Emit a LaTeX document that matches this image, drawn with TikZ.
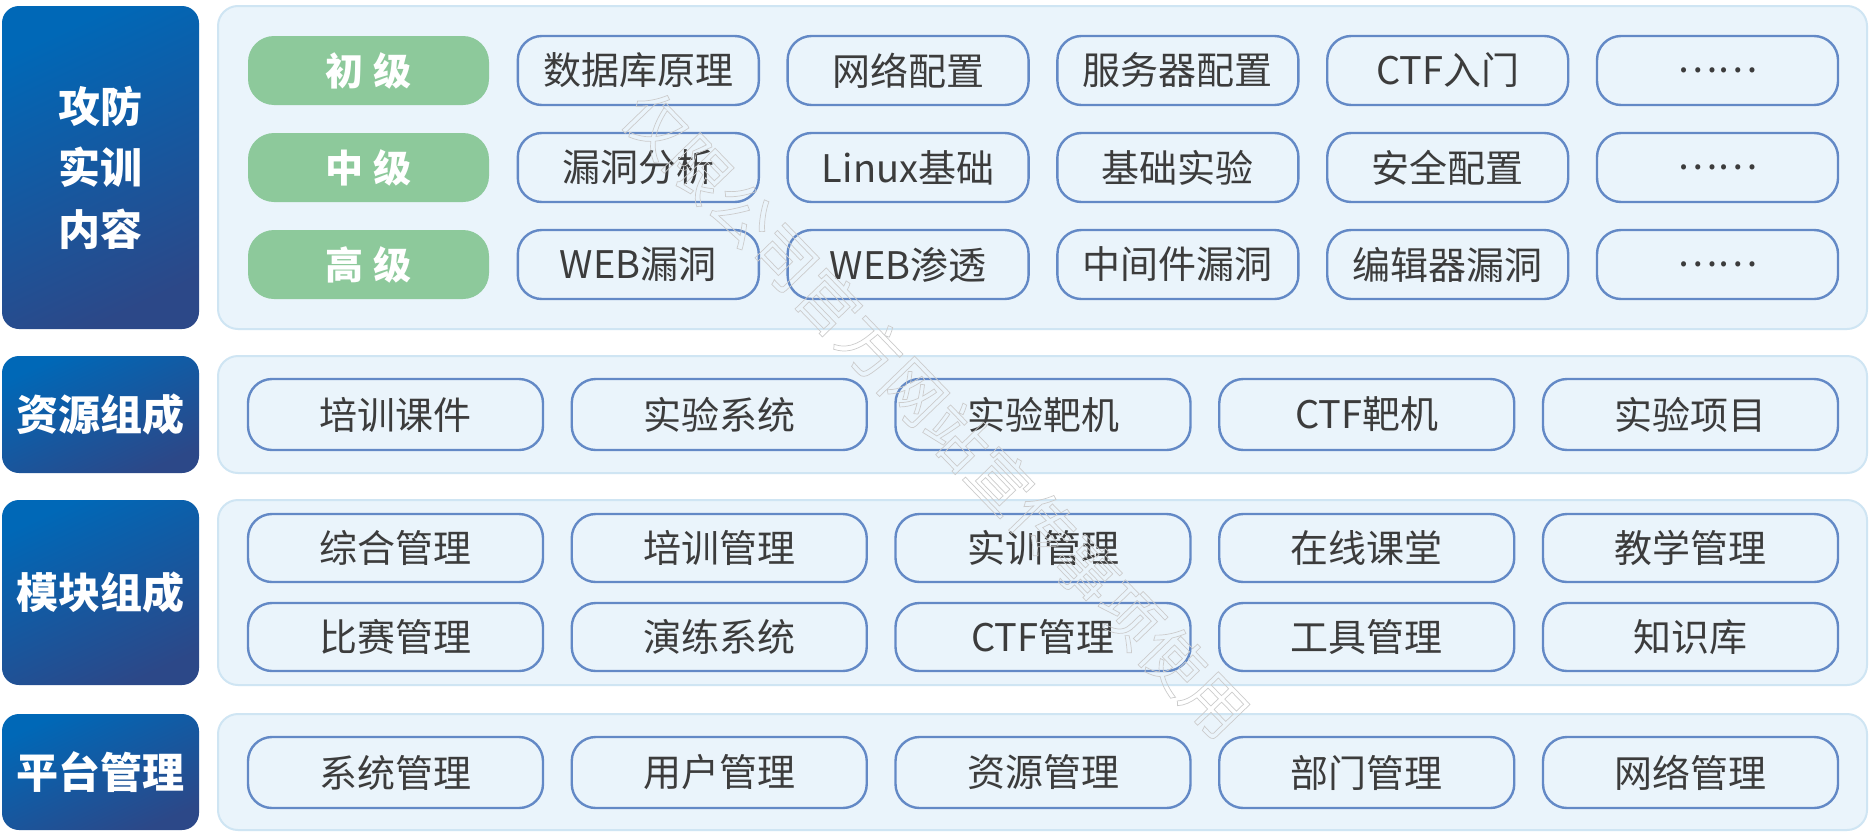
\documentclass[tikz,border=0pt]{standalone}
\usepackage{fontspec}
\setmainfont{Noto Sans CJK SC}
\usetikzlibrary{positioning}

\definecolor{sideTop}{HTML}{0068B7}
\definecolor{sideBot}{HTML}{2C4888}
\definecolor{panelFill}{HTML}{EAF4FB}
\definecolor{panelLine}{HTML}{CFE5F3}
\definecolor{itemLine}{HTML}{6389C6}
\definecolor{levelGreen}{HTML}{8DC99B}
\definecolor{textGray}{HTML}{3C3C3C}

% outlined text for the watermark
\newcommand{\outlinetext}[1]{\special{pdf:literal direct 1 Tr 0.35 w}#1\special{pdf:literal direct 0 Tr}}

\tikzset{
  sidebox/.style={rounded corners=8.5pt, top color=sideTop, bottom color=sideBot,
    shading angle=25, text=white, align=center, inner sep=0pt,
    minimum width=98.5pt, font=\fontsize{21}{30.7}\selectfont\bfseries},
  panel/.style={draw=panelLine, line width=1pt, fill=panelFill, rounded corners=10pt,
    minimum width=824.5pt, inner sep=0pt},
  levelbox/.style={fill=levelGreen, rounded corners=13pt, text=white, inner sep=0pt,
    minimum width=120.5pt, minimum height=34.5pt, font=\fontsize{19}{19}\selectfont\bfseries},
  itembox/.style={draw=itemLine, line width=1.2pt, fill=panelFill, rounded corners=12pt,
    text=textGray, inner sep=0pt, minimum height=34.5pt, font=\fontsize{19}{19}\selectfont},
}

\begin{document}
\begin{tikzpicture}[x=0.5pt, y=-0.5pt]
  \fill[white] (0,0) rectangle (1871,835);
  \useasboundingbox (0,0) rectangle (1871,835);

  % side labels
  \node[sidebox, minimum height=161.5pt] (sd-1) at (100.5,167.5) {攻防\\实训\\内容};
  \node[sidebox, minimum height=58.5pt] (sd-2) at (100.5,414.5) {资源组成};
  \node[sidebox, minimum height=92.5pt] (sd-3) at (100.5,592.5) {模块组成};
  \node[sidebox, minimum height=58pt] (sd-4) at (100.5,772) {平台管理};

  % panels
  \node[panel, minimum height=161.5pt] (pn-1) at (1042.5,167.5) {};
  \node[panel, minimum height=58.5pt] (pn-2) at (1042.5,414.5) {};
  \node[panel, minimum height=92.5pt] (pn-3) at (1042.5,592.5) {};
  \node[panel, minimum height=58pt] (pn-4) at (1042.5,772) {};

  % training content
  \foreach \lvl/\y/\names [count=\r] in {
      初\hspace{5pt}级/70.5/{数据库原理,网络配置,服务器配置,CTF入门,……},
      中\hspace{5pt}级/167.5/{漏洞分析,Linux基础,基础实验,安全配置,……},
      高\hspace{5pt}级/264.5/{WEB漏洞,WEB渗透,中间件漏洞,编辑器漏洞,……}} {
    \node[levelbox] (lv-\r) at (368.5,\y) {\lvl};
    \foreach \n [count=\i] in \names
      \node[itembox, minimum width=120.5pt] (c-\r-\i) at (368.5+\i*269.8,\y) {\n};
  }

  % resources
  \foreach \n [count=\i] in {培训课件,实验系统,实验靶机,CTF靶机,实验项目}
    \node[itembox, minimum width=147.5pt, minimum height=35.5pt] (rs-\i) at (395.5+\i*323.75-323.75,414.5) {\n};

  % modules
  \foreach \n [count=\i] in {综合管理,培训管理,实训管理,在线课堂,教学管理}
    \node[itembox, minimum width=147.5pt, minimum height=34pt] (md-a-\i) at (395.5+\i*323.75-323.75,548) {\n};
  \foreach \n [count=\i] in {比赛管理,演练系统,CTF管理,工具管理,知识库}
    \node[itembox, minimum width=147.5pt, minimum height=34pt] (md-b-\i) at (395.5+\i*323.75-323.75,637) {\n};

  % platform
  \foreach \n [count=\i] in {系统管理,用户管理,资源管理,部门管理,网络管理}
    \node[itembox, minimum width=147.5pt, minimum height=35.5pt] (pf-\i) at (395.5+\i*323.75-323.75,772.5) {\n};

  % watermark
  \node[rotate=-46, text=gray!40, font=\fontsize{31}{31}\selectfont] (wm) at (936,414) {\outlinetext{仅限公司官方网站宣传事项使用}};
\end{tikzpicture}
\end{document}
